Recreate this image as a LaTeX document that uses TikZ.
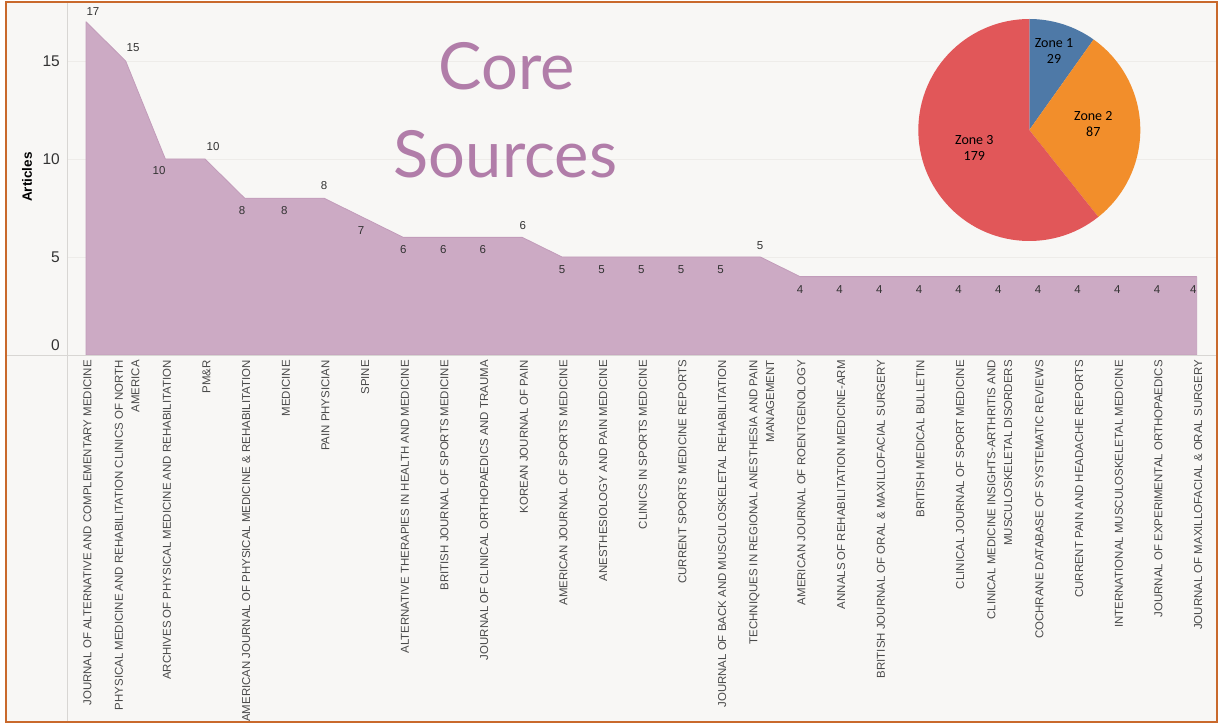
\documentclass[tikz,border=0pt]{standalone}
\usepackage{fontspec}
\setmainfont{Liberation Sans}
\newfontfamily\zonefont{Carlito}
\newfontfamily\titlefont{Lato}
\definecolor{bgc}{HTML}{F8F7F5}
\definecolor{framec}{HTML}{C9692C}
\definecolor{gridc}{HTML}{EEECE9}
\definecolor{axisc}{HTML}{D8D6D3}
\definecolor{areac}{HTML}{CCAAC4}
\definecolor{areaedge}{HTML}{C29CBA}
\definecolor{labc}{HTML}{4A4A4A}
\definecolor{valc}{HTML}{333333}
\definecolor{titlec}{HTML}{B17DA9}
\definecolor{zoneA}{HTML}{4E79A7}
\definecolor{zoneB}{HTML}{F28E2B}
\definecolor{zoneC}{HTML}{E15759}
\tikzset{
  xlab/.style={rotate=90, anchor=east, align=right, inner sep=0pt, text=labc,
    font=\fontsize{11.45}{16.6}\selectfont},
  vallab/.style={inner sep=0pt, text=valc, font=\fontsize{11.5}{12}\selectfont},
  ticklab/.style={anchor=east, inner sep=0pt, text=valc, font=\fontsize{15.5}{16}\selectfont},
  zonelab/.style={align=center, inner sep=0pt, text=black, font=\zonefont\fontsize{14}{16}\selectfont},
  gridline/.style={draw=gridc, line width=0.8pt},
  titlelab/.style={anchor=base, inner sep=0pt, text=titlec, font=\titlefont\fontsize{65}{65}\selectfont},
}
\begin{document}
\begin{tikzpicture}[x=1pt,y=1pt]
\useasboundingbox (0,0) rectangle (1222,724);
\fill[white] (0,0) rectangle (1222,724);
\fill[bgc] (6,2) rectangle (1217,722);
% grid lines
\draw[gridline] (67,663) -- (1217,663);
\draw[gridline] (67,565) -- (1217,565);
\draw[gridline] (67,467) -- (1217,467);
% data points
\foreach \v [count=\i] in {17,15,10,10,8,8,8,7,6,6,6,6,5,5,5,5,5,5,4,4,4,4,4,4,4,4,4,4,4}
  \coordinate (p\i) at ({86+39.667*(\i-1)},{369+19.6*\v});
\coordinate (b0) at (86,369);
\coordinate (b1) at (1196.7,369);
\filldraw[fill=areac, draw=areaedge, line width=0.8pt, line join=round]
  (b0) \foreach \i in {1,...,29}{ -- (p\i)} -- (b1) -- cycle;
% axes
\draw[axisc, line width=1pt] (67,2) -- (67,722);
\draw[axisc, line width=1pt] (6,369) -- (1217,369);
% tick labels
\node[ticklab] (t15) at (60,663) {15};
\node[ticklab] (t10) at (60,565) {10};
\node[ticklab] (t5) at (60,467) {5};
\node[ticklab] (t0) at (60,379) {0};
\node[rotate=90, inner sep=0pt, font=\bfseries\fontsize{13.5}{14}\selectfont] (ytitle) at (27,547) {Articles};
% value labels
\node[vallab] (v1) at (93,712) {17};
\node[vallab] (v2) at (133,676) {15};
\node[vallab] (v3) at (159,553) {10};
\node[vallab] (v4) at (213,577) {10};
\node[vallab] (v5) at (242,513) {8};
\node[vallab] (v6) at (284.3,513) {8};
\node[vallab] (v7) at (324,538) {8};
\node[vallab] (v8) at (361,493) {7};
\node[vallab] (v9) at (403.3,474) {6};
\node[vallab] (v10) at (443.3,474) {6};
\node[vallab] (v11) at (482.7,474) {6};
\node[vallab] (v12) at (522.7,498.7) {6};
\foreach \i in {13,...,17}
  \node[vallab] (v\i) at ({86+39.667*(\i-1)},454.7) {5};
\node[vallab] (v18) at (760,478.7) {5};
\foreach \i in {19,...,28}
  \node[vallab] (v\i) at ({86+39.667*(\i-1)},434.7) {4};
\node[vallab] (v29) at (1193.3,434.7) {4};
% x labels
\foreach \t [count=\i] in {
JOURNAL OF ALTERNATIVE AND COMPLEMENTARY MEDICINE,
PHYSICAL MEDICINE AND REHABILITATION CLINICS OF NORTH\\AMERICA,
ARCHIVES OF PHYSICAL MEDICINE AND REHABILITATION,
PM\&R,
AMERICAN JOURNAL OF PHYSICAL MEDICINE \& REHABILITATION,
MEDICINE,
PAIN PHYSICIAN,
SPINE,
ALTERNATIVE THERAPIES IN HEALTH AND MEDICINE,
BRITISH JOURNAL OF SPORTS MEDICINE,
JOURNAL OF CLINICAL ORTHOPAEDICS AND TRAUMA,
KOREAN JOURNAL OF PAIN,
AMERICAN JOURNAL OF SPORTS MEDICINE,
ANESTHESIOLOGY AND PAIN MEDICINE,
CLINICS IN SPORTS MEDICINE,
CURRENT SPORTS MEDICINE REPORTS,
JOURNAL OF BACK AND MUSCULOSKELETAL REHABILITATION,
TECHNIQUES IN REGIONAL ANESTHESIA AND PAIN\\MANAGEMENT,
AMERICAN JOURNAL OF ROENTGENOLOGY,
ANNALS OF REHABILITATION MEDICINE-ARM,
BRITISH JOURNAL OF ORAL \& MAXILLOFACIAL SURGERY,
BRITISH MEDICAL BULLETIN,
CLINICAL JOURNAL OF SPORT MEDICINE,
CLINICAL MEDICINE INSIGHTS-ARTHRITIS AND\\MUSCULOSKELETAL DISORDERS,
COCHRANE DATABASE OF SYSTEMATIC REVIEWS,
CURRENT PAIN AND HEADACHE REPORTS,
INTERNATIONAL MUSCULOSKELETAL MEDICINE,
JOURNAL OF EXPERIMENTAL ORTHOPAEDICS,
JOURNAL OF MAXILLOFACIAL \& ORAL SURGERY}
  \node[xlab] (l\i) at ({87.5+39.667*(\i-1)},364) {\t};
% title
\node[titlelab] (core) at (506.7,634) {Core};
\node[titlelab] (sources) at (505.5,546) {Sources};
% pie
\coordinate (pc) at (1029.3,594);
\fill[zoneA] (pc) -- ++(90:111) arc[start angle=90, end angle=54.61, radius=111] -- cycle;
\fill[zoneB] (pc) -- ++(54.61:111) arc[start angle=54.61, end angle=-51.56, radius=111] -- cycle;
\fill[zoneC] (pc) -- ++(-51.56:111) arc[start angle=-51.56, end angle=-270, radius=111] -- cycle;
\node[zonelab] (z1) at (1054,672.7) {Zone 1\\29};
\node[zonelab] (z2) at (1093.3,600) {Zone 2\\87};
\node[zonelab] (z3) at (974.3,575.7) {Zone 3\\179};
% frame
\draw[framec, line width=2pt] (6,2) rectangle (1217,722);
\end{tikzpicture}
\end{document}
